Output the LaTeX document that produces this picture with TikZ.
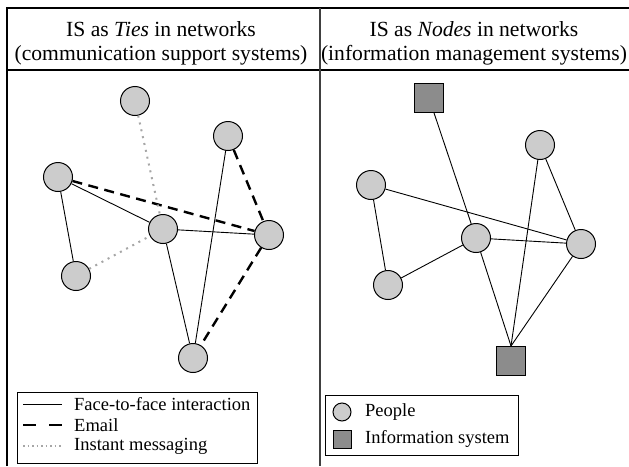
\documentclass[tikz,border=0pt]{standalone}
\usepackage{fontspec}
\setmainfont{Liberation Serif}
\usetikzlibrary{positioning}

\tikzset{
  person/.style={circle,draw,fill=black!20,minimum size=29pt,inner sep=0pt,line width=1pt},
  infosys/.style={rectangle,draw,fill=black!45,minimum size=29pt,inner sep=0pt,line width=1pt},
  f2f/.style={line width=0.9pt},
  email/.style={line width=2.4pt,dash pattern=on 10pt off 6.5pt},
  instmsg/.style={line width=2pt,black!35,dash pattern=on 2pt off 5pt},
  head/.style={align=center,inner sep=0pt,font=\fontsize{21.6}{24}\selectfont},
  legtext/.style={anchor=west,inner sep=0pt,font=\fontsize{18.5}{21}\selectfont},
}

\begin{document}
\begin{tikzpicture}[x=1pt,y=-1pt]
  \useasboundingbox (0,0) rectangle (629,466);
  % frame
  \draw[line width=1.3pt] (7,466) -- (7,8) -- (629,8);
  \draw[line width=1.3pt] (7,70) -- (629,70);
  \draw[line width=1.8pt,black!75] (320,8) -- (320,466);

  \node[head] (HeadL) at (161,43) {IS as \textit{Ties} in networks\\(communication support systems)};
  \node[head] (HeadR) at (474,43) {IS as \textit{Nodes} in networks\\(information management systems)};

  % communication support systems
  \node[person] (TopL)   at (135,101) {};
  \node[person] (UpRL)   at (228,136) {};
  \node[person] (LeftL)  at (58,177)  {};
  \node[person] (MidL)   at (163,229) {};
  \node[person] (RightL) at (269,235) {};
  \node[person] (LowL)   at (76,276)  {};
  \node[person] (BotL)   at (193,358) {};

  \path[f2f]
    (LeftL) edge (MidL)
    (LeftL) edge (LowL)
    (MidL)  edge (RightL)
    (MidL)  edge (BotL)
    (UpRL)  edge (BotL);
  \path[email]
    (LeftL)  edge (RightL)
    (UpRL)   edge (RightL)
    (RightL) edge (BotL);
  \path[instmsg]
    (TopL) edge (MidL)
    (LowL) edge (MidL);

  % information management systems
  \node[infosys] (TopR)   at (429,98)  {};
  \node[person]  (UpRR)   at (540,145) {};
  \node[person]  (LeftR)  at (371,185) {};
  \node[person]  (MidR)   at (476,238) {};
  \node[person]  (RightR) at (581,244) {};
  \node[person]  (LowR)   at (388,285) {};
  \node[infosys] (BotR)   at (511,361) {};

  \path[f2f]
    (TopR)   edge (MidR)
    (LeftR)  edge (RightR)
    (LeftR)  edge (LowR)
    (LowR)   edge (MidR)
    (MidR)   edge (RightR)
    (UpRR)   edge (RightR)
    (MidR)   edge (BotR.north)
    (UpRR)   edge (BotR.north)
    (RightR) edge (BotR.north);

  % legends
  \draw[line width=1pt] (17,392) rectangle (257,463);
  \coordinate (F2fA) at (23,404);   \coordinate (F2fB) at (62,404);
  \coordinate (MailA) at (23,425);  \coordinate (MailB) at (62,425);
  \coordinate (ImA) at (23,446);    \coordinate (ImB) at (62,446);
  \draw[f2f] (F2fA) -- (F2fB);
  \draw[email,dash pattern=on 13pt off 13pt] (MailA) -- (MailB);
  \draw[instmsg,line width=1.2pt,dash pattern=on 1.5pt off 3pt] (ImA) -- (ImB);
  \node[legtext] (LegF2f)  at (74,404) {Face-to-face interaction};
  \node[legtext] (LegMail) at (74,425) {Email};
  \node[legtext] (LegIm)   at (74,446) {Instant messaging};

  \draw[line width=1pt] (325,395) rectangle (518,455);
  \node[person,minimum size=18pt]  (LegPer) at (342,412) {};
  \node[infosys,minimum size=18pt] (LegSys) at (342,439) {};
  \node[legtext] (LegPerT) at (365,412) {People};
  \node[legtext] (LegSysT) at (365,439) {Information system};
\end{tikzpicture}
\end{document}
